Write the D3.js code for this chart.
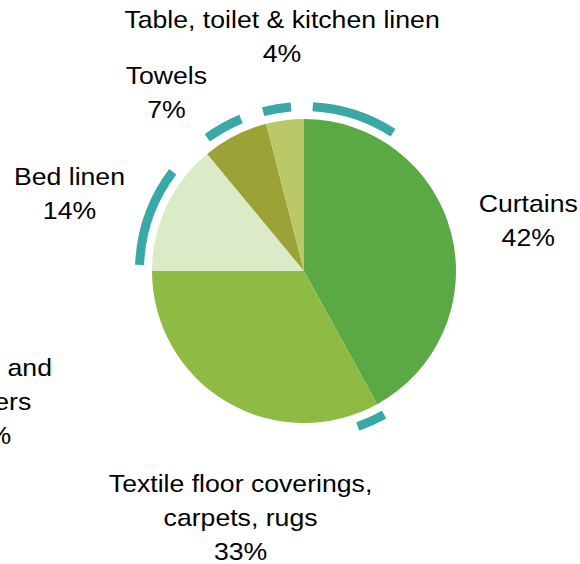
<!DOCTYPE html>
<html>
<head>
<meta charset="utf-8">
<script src="https://cdn.jsdelivr.net/npm/d3@7"></script>
<style>
  html, body { margin: 0; padding: 0; background: #ffffff; }
  svg { display: block; }
  text { font-family: "Liberation Sans", Arial, sans-serif; fill: #000; }
</style>
</head>
<body>
<svg id="chart" width="580" height="564"></svg>
<script>
// Household textiles: share of each category
const categories = ["Curtains", "Textile floor coverings, carpets, rugs", "Quilts and covers", "Bed linen", "Towels", "Table, toilet & kitchen linen"];
const labelLines = [["Curtains"], ["Textile floor coverings,", "carpets, rugs"], ["Quilts and", "covers"], ["Bed linen"], ["Towels"], ["Table, toilet & kitchen linen"]];
const shares = [42, 33, 0, 14, 7, 4];
const sliceColors = ["#5ba945", "#8dbb43", "#8dbb43", "#dcebc7", "#9ca336", "#bbc867"];

// Highlight ring segments, as start/end positions in percent of the full circle
const ringStart = [0.85, 41.9, 75.6, 90.0, 96.0];
const ringEnd   = [9.1, 44.7, 85.3, 93.75, 98.75];

// Label nudges away from the slice centroid
const labelDx = [16, 46, -97, -40, -40, 5];
const labelDy = [3, 61, 131, 14, 13, -21];

const cx = 304, cy = 271, R = 152;
const fontSize = 24, lineH = 34, stretch = 1.11;

const svg = d3.select("#chart");
const g = svg.append("g").attr("transform", `translate(${cx},${cy})`);

const data = categories.map((c, i) => ({ name: c, value: shares[i], lines: labelLines[i], color: sliceColors[i], dx: labelDx[i], dy: labelDy[i] }));

const pie = d3.pie().sort(null).value(d => d.value);
const arcs = pie(data);

const arc = d3.arc().innerRadius(0).outerRadius(R);
g.selectAll("path.slice")
  .data(arcs.filter(a => a.data.value > 0))
  .join("path")
  .attr("class", "slice")
  .attr("d", arc)
  .attr("fill", d => d.data.color);

// Outer highlight ring
const pct = d3.scaleLinear().domain([0, 100]).range([0, 2 * Math.PI]);
const ringArc = d3.arc().innerRadius(160).outerRadius(169);
g.selectAll("path.ring")
  .data(ringStart.map((s, i) => ({ startAngle: pct(s), endAngle: pct(ringEnd[i]) })))
  .join("path")
  .attr("class", "ring")
  .attr("d", ringArc)
  .attr("fill", "#3aa8a6");

// Labels: name lines + percentage, in a slightly wide face
const labelArc = d3.arc().innerRadius(215).outerRadius(215);
g.selectAll("text.label")
  .data(arcs)
  .join("text")
  .attr("class", "label")
  .attr("text-anchor", "middle")
  .style("font-size", fontSize + "px")
  .each(function(d) {
    const [x, y] = labelArc.centroid(d);
    const lx = x + d.data.dx, ly = y + d.data.dy;
    const lines = d.data.lines.concat([d3.format(".0f")(d.data.value) + "%"]);
    const first = ly - (lines.length - 1) * lineH / 2 + 8.5;
    const t = d3.select(this).attr("transform", `translate(${lx},0) scale(${stretch},1)`);
    lines.forEach((ln, k) => {
      t.append("tspan").attr("x", 0).attr("y", first + k * lineH).text(ln);
    });
  });
</script>
</body>
</html>
